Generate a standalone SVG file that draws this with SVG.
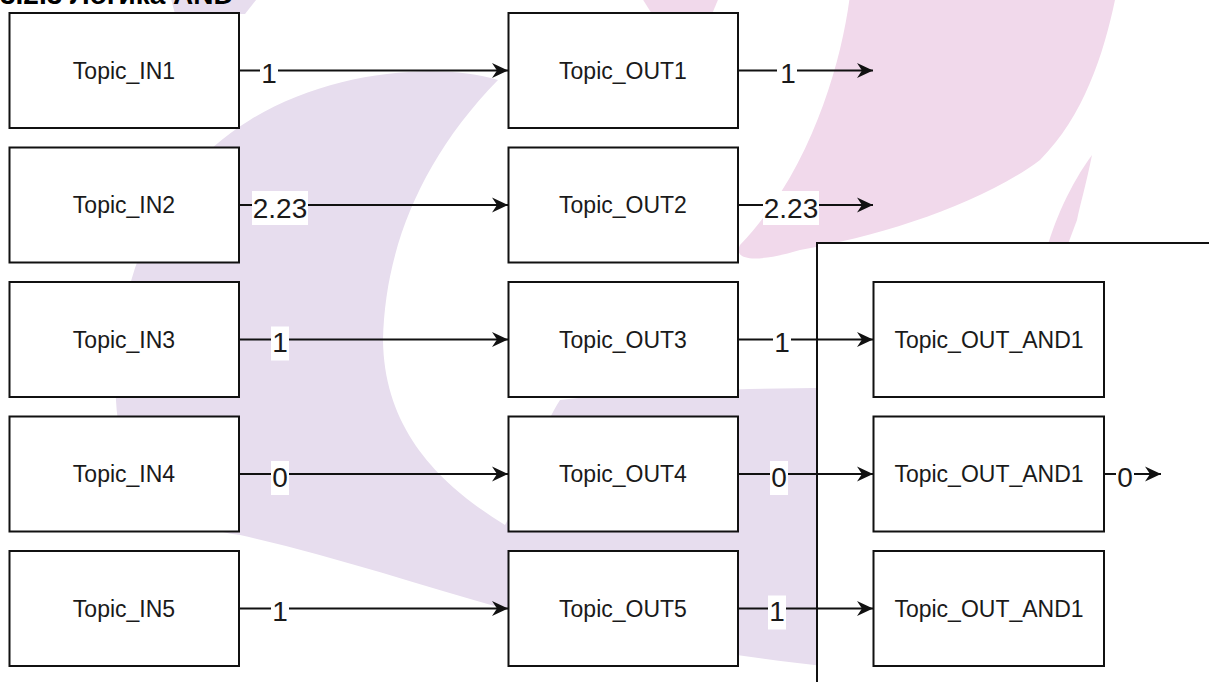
<svg xmlns="http://www.w3.org/2000/svg" width="1209" height="682" viewBox="0 0 1209 682">
<style>
.wp{fill:#e7ddee}
.wk{fill:#f1d9eb}
.node rect{fill:#fff;stroke:#111;stroke-width:2}
.node text{font-family:"Liberation Sans",Arial,sans-serif;font-size:23px;fill:#1a1a1a;text-anchor:middle}
.edge line{stroke:#111;stroke-width:2}
.lb{fill:#fff}
.lt{font-family:"Liberation Sans",Arial,sans-serif;font-size:28px;fill:#1a1a1a;text-anchor:middle}
.title{font-family:"Liberation Sans",Arial,sans-serif;font-size:28px;font-weight:bold;fill:#000}
</style>
<defs>
<marker id="ah" markerUnits="userSpaceOnUse" markerWidth="18" markerHeight="18" refX="16" refY="8" orient="auto"><path d="M16,8 L0,0.5 L5,8 L0,15.5 Z" fill="#111"/></marker>
</defs>
<rect width="1209" height="682" fill="#fff"/>
<g id="watermark">
<path class="wp" d="M498,80 C440,62 330,70 250,120 C160,175 120,270 116,380 C112,470 160,525 240,535 C330,555 420,585 505,609 C600,635 700,652 830,667 L830,388 C740,388 620,392 560,400 C540,430 530,480 505,525 C440,485 384,430 383,340 C385,250 420,160 498,80 Z"/>
<path class="wp" d="M170,-5 L260,-5 L245,14 L175,14 Z"/>
<path class="wk" d="M850,-5 C842,60 812,170 740,245 C732,262 760,262 800,250 C880,236 980,205 1040,160 C1085,115 1105,50 1116,-5 Z"/>
<path class="wk" d="M640,-5 L720,-5 L712,14 L652,14 Z"/>
<path class="wk" d="M1092,155 C1086,185 1080,205 1077,220 L1062,260 L1044,260 C1052,225 1070,185 1092,155 Z"/>
</g>
<text class="title" x="0" y="4">3.2.3 Логика AND</text>
<g id="group-and">
<rect x="817" y="243" width="400" height="450" fill="#fff" stroke="#111" stroke-width="2"/>
</g>
<g id="connectors" class="edge">
<line x1="239" y1="70.5" x2="508" y2="70.5" marker-end="url(#ah)"/>
<line x1="239" y1="205" x2="508" y2="205" marker-end="url(#ah)"/>
<line x1="239" y1="339.5" x2="508" y2="339.5" marker-end="url(#ah)"/>
<line x1="239" y1="474" x2="508" y2="474" marker-end="url(#ah)"/>
<line x1="239" y1="608.5" x2="508" y2="608.5" marker-end="url(#ah)"/>
<line x1="738" y1="70.5" x2="873" y2="70.5" marker-end="url(#ah)"/>
<line x1="738" y1="205" x2="873" y2="205" marker-end="url(#ah)"/>
<line x1="738" y1="339.5" x2="873" y2="339.5" marker-end="url(#ah)"/>
<line x1="738" y1="474" x2="873" y2="474" marker-end="url(#ah)"/>
<line x1="738" y1="608.5" x2="873" y2="608.5" marker-end="url(#ah)"/>
<line x1="1104" y1="474" x2="1161" y2="474" marker-end="url(#ah)"/>
<rect class="lb" x="260" y="57.5" width="18" height="34"/><text class="lt" x="269" y="83">1</text>
<rect class="lb" x="252" y="191" width="56" height="34"/><text class="lt" x="280" y="217.5">2.23</text>
<rect class="lb" x="271" y="326.5" width="18" height="34"/><text class="lt" x="280" y="352">1</text>
<rect class="lb" x="271" y="461" width="18" height="34"/><text class="lt" x="280" y="486.5">0</text>
<rect class="lb" x="271" y="595.5" width="18" height="34"/><text class="lt" x="280" y="621">1</text>
<rect class="lb" x="777" y="57.5" width="20" height="34"/><text class="lt" x="788" y="83">1</text>
<rect class="lb" x="763" y="191" width="56" height="34"/><text class="lt" x="791" y="217.5">2.23</text>
<rect class="lb" x="773" y="326.5" width="18" height="34"/><text class="lt" x="782" y="352">1</text>
<rect class="lb" x="770" y="461" width="18" height="34"/><text class="lt" x="779" y="486.5">0</text>
<rect class="lb" x="768" y="595.5" width="18" height="34"/><text class="lt" x="777" y="621">1</text>
<rect class="lb" x="1116" y="461" width="18" height="34"/><text class="lt" x="1125" y="486.5">0</text>
</g>
<g id="in1" class="node"><rect x="9.5" y="13" width="229.5" height="115"/><text x="124" y="78.5">Topic_IN1</text></g>
<g id="in2" class="node"><rect x="9.5" y="147.5" width="229.5" height="115"/><text x="124" y="213">Topic_IN2</text></g>
<g id="in3" class="node"><rect x="9.5" y="282" width="229.5" height="115"/><text x="124" y="347.5">Topic_IN3</text></g>
<g id="in4" class="node"><rect x="9.5" y="416.5" width="229.5" height="115"/><text x="124" y="482">Topic_IN4</text></g>
<g id="in5" class="node"><rect x="9.5" y="551" width="229.5" height="115"/><text x="124" y="616.5">Topic_IN5</text></g>
<g id="out1" class="node"><rect x="508.5" y="13" width="229.5" height="115"/><text x="623" y="78.5">Topic_OUT1</text></g>
<g id="out2" class="node"><rect x="508.5" y="147.5" width="229.5" height="115"/><text x="623" y="213">Topic_OUT2</text></g>
<g id="out3" class="node"><rect x="508.5" y="282" width="229.5" height="115"/><text x="623" y="347.5">Topic_OUT3</text></g>
<g id="out4" class="node"><rect x="508.5" y="416.5" width="229.5" height="115"/><text x="623" y="482">Topic_OUT4</text></g>
<g id="out5" class="node"><rect x="508.5" y="551" width="229.5" height="115"/><text x="623" y="616.5">Topic_OUT5</text></g>
<g id="and1" class="node"><rect x="873.5" y="282" width="230.5" height="115"/><text x="989" y="347.5">Topic_OUT_AND1</text></g>
<g id="and2" class="node"><rect x="873.5" y="416.5" width="230.5" height="115"/><text x="989" y="482">Topic_OUT_AND1</text></g>
<g id="and3" class="node"><rect x="873.5" y="551" width="230.5" height="115"/><text x="989" y="616.5">Topic_OUT_AND1</text></g>
</svg>
